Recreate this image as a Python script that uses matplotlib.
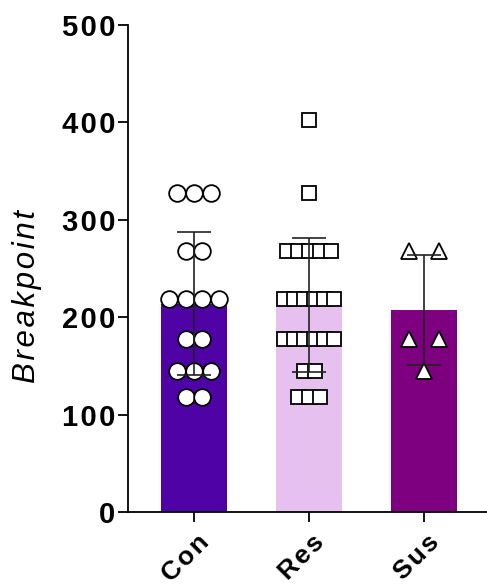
import matplotlib
matplotlib.use("Agg")
import matplotlib.pyplot as plt
import numpy as np

groups = ["Con", "Res", "Sus"]
con = [328, 328, 328, 268, 268, 219, 219, 219, 219, 178, 178, 145, 145, 145, 118, 118]
res = [402, 328, 268, 268, 268, 268, 268, 219, 219, 219, 219, 219, 219,
       178, 178, 178, 178, 178, 178, 145, 145, 118, 118, 118]
sus = [268, 268, 178, 178, 145]
data = [con, res, sus]

bar_colors = ["#4f02a6", "#e6c0ee", "#7e0080"]
markers = ["o", "s", "^"]
msizes = [12, 10.5, 11]
gaps_px = [16.7, 11, 30]   # horizontal spacing of tied points, in pixels

yticks = [0, 100, 200, 300, 400, 500]
THIN = "\u2009"
HAIR = "\u200a"

def spaced(s, sep=THIN):
    return sep.join(list(s))

plt.rcParams['font.family'] = ['Liberation Sans', 'DejaVu Sans']

fig = plt.figure(figsize=(4.87, 5.88), dpi=100)
ax = fig.add_axes([128/487, 1-512/588, 1-128/487, 487/588])

px_per_unit = 115.0
x = np.arange(len(groups))
bar_w = 66/px_per_unit

for i, vals in enumerate(data):
    vals = np.array(vals, dtype=float)
    m = vals.mean()
    sd = vals.std(ddof=1)
    ax.bar(x[i], m, width=bar_w, color=bar_colors[i], zorder=1)
    # spread tied values side by side
    xs, ys = [], []
    for v in sorted(set(vals), reverse=True):
        n = int((vals == v).sum())
        gap = gaps_px[i]
        if n > 1 and i == 1:
            gap = min(gap, 50/(n-1))
        offs = (np.arange(n) - (n-1)/2) * gap / px_per_unit
        xs.extend(x[i] + offs)
        ys.extend([v]*n)
    ax.plot(xs, ys, linestyle="none", marker=markers[i], markersize=msizes[i],
            markerfacecolor="white", markeredgecolor="black", markeredgewidth=1.3,
            zorder=2, clip_on=False)
    ax.errorbar(x[i], m, yerr=sd, color="#222222", elinewidth=1.2, capsize=12,
                capthick=1.2, zorder=3)

ax.set_xlim(-(194-128)/px_per_unit, (487-194)/px_per_unit)
ax.set_ylim(0, 500)
ax.set_yticks(yticks)
ax.set_yticklabels([spaced(str(t), HAIR) for t in yticks], fontsize=21, fontweight="bold")
ax.set_xticks(x)
ax.set_xticklabels([])
# rotated group labels, placed by hand below each tick
for i, g in enumerate(groups):
    ax.annotate(spaced(g, HAIR), xy=(x[i], 0), xycoords=ax.get_xaxis_transform(),
                xytext=(2.2, -13), textcoords="offset points",
                rotation=45, ha="right", va="top", rotation_mode="anchor",
                fontsize=19, fontweight="bold", annotation_clip=False)
ax.set_ylabel(spaced("Breakpoint", HAIR), fontsize=22.5, fontstyle="italic")
ax.yaxis.set_label_coords((42-128)/359, 0.443)

for s in ["top", "right"]:
    ax.spines[s].set_visible(False)
for s in ["left", "bottom"]:
    ax.spines[s].set_linewidth(1.3)
ax.tick_params(axis="y", length=7, width=1.3, pad=2)
ax.tick_params(axis="x", length=7, width=1.3)

fig.savefig("out.png", dpi=100)
